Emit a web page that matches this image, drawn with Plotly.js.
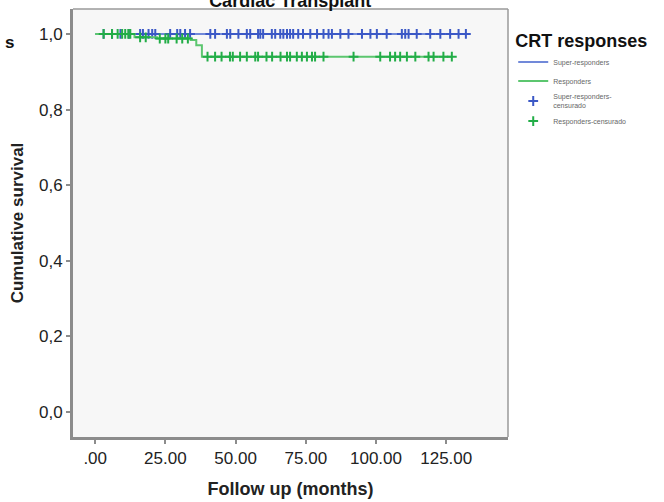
<!DOCTYPE html>
<html>
<head>
<meta charset="utf-8">
<script src="https://cdn.plot.ly/plotly-3.0.1.min.js"></script>
<style>html,body{margin:0;padding:0;background:#fff;}#chart{width:664px;height:502px;}</style>
</head>
<body>
<div id="chart"></div>
<script>
// Kaplan-Meier step data (time in months, cumulative survival)
const superTimes = [0, 132];
const superSurv  = [1.0, 1.0];
const respTimes  = [0, 14, 22, 34, 36, 38, 127];
const respSurv   = [1.0, 0.991, 0.988, 0.984, 0.97, 0.94, 0.94];

// Censoring times
const superCensor = [3, 6, 9, 12, 16, 17, 19, 20.3, 21.4, 26.7, 29.2, 30.3, 32, 33.8, 41, 42.7, 46.9, 48.1, 51, 54, 55.2, 58, 58.8, 59.8, 62.9, 64.1, 65.9, 67, 68.3, 69.4, 70.5, 72.3, 74, 76.6, 79, 81.3, 83.1, 84.3, 87.3, 90.2, 95, 98, 100.3, 103.8, 109.2, 110.4, 111.6, 114.5, 119.3, 122.9, 126.4, 129.4, 132];
const respCensor  = [3, 6, 8, 9.6, 10.7, 11.8, 12.5, 16, 18, 23, 25, 26, 29, 31, 33, 40, 42.7, 45, 48, 49, 51.6, 54, 57, 58, 61, 63, 66, 68.3, 69.4, 71.8, 73.6, 75.4, 77.2, 78.3, 81.3, 92, 101.5, 105, 106.8, 108.6, 111, 114, 118.7, 120.5, 124, 127];

const xTickVals = [0, 25, 50, 75, 100, 125];
const xTickText = ['.00', '25.00', '50.00', '75.00', '100.00', '125.00'];
const yTickVals = [0, 0.2, 0.4, 0.6, 0.8, 1.0];
const yTickText = ['0,0', '0,2', '0,4', '0,6', '0,8', '1,0'];

const seriesNames = ['Super-responders', 'Responders', 'Super-responders-<br>censurado', 'Responders-censurado'];

function survAt(times, surv, t) {
  let s = surv[0];
  for (let i = 0; i < times.length; i++) { if (times[i] <= t) s = surv[i]; }
  return s;
}

const blueLine = '#7189d9', blueMark = '#3b58c6';
const greenLine = '#5cc66f', greenMark = '#22ad47';

const traces = [
  {x: superTimes, y: superSurv, mode: 'lines', line: {shape: 'hv', color: blueLine, width: 2}, name: seriesNames[0], legendrank: 1},
  {x: superCensor, y: superCensor.map(t => survAt(superTimes, superSurv, t)), mode: 'markers',
   marker: {symbol: 'cross-thin-open', size: 7, color: blueMark, line: {color: blueMark, width: 2}}, name: seriesNames[2], legendrank: 3},
  {x: respTimes, y: respSurv, mode: 'lines', line: {shape: 'hv', color: greenLine, width: 2}, name: seriesNames[1], legendrank: 2},
  {x: respCensor, y: respCensor.map(t => survAt(respTimes, respSurv, t)), mode: 'markers',
   marker: {symbol: 'cross-thin-open', size: 7, color: greenMark, line: {color: greenMark, width: 2}}, name: seriesNames[3], legendrank: 4}
];

const font = 'Liberation Sans, Arial, Helvetica, sans-serif';
const layout = {
  width: 664, height: 502,
  margin: {l: 73, r: 156, t: 9, b: 65},
  paper_bgcolor: '#ffffff',
  plot_bgcolor: '#f7f7f7',
  font: {family: font, size: 17, color: '#222'},
  title: {text: '<b>Cardiac Transplant</b>', x: 0.437, xanchor: 'center', y: 0.998, yref: 'container', yanchor: 'middle', font: {family: font, size: 18, color: '#111'}},
  xaxis: {
    range: [-7.9, 147], tickvals: xTickVals, ticktext: xTickText,
    showgrid: false, zeroline: false, showline: true, linecolor: '#8c8c8c', linewidth: 3,
    ticks: 'outside', ticklen: 4, tickwidth: 2, tickcolor: '#8c8c8c',
    tickfont: {size: 17, color: '#222'},
    title: {text: '<b>Follow up (months)</b>', font: {size: 18, color: '#222'}, standoff: 15}
  },
  yaxis: {
    range: [-0.066, 1.066], tickvals: yTickVals, ticktext: yTickText,
    showgrid: false, zeroline: false, showline: true, linecolor: '#8c8c8c', linewidth: 3,
    ticks: 'outside', ticklen: 4, tickwidth: 2, tickcolor: '#8c8c8c',
    tickfont: {size: 17, color: '#222'},
    title: {text: '<b>Cumulative survival</b>', font: {size: 17, color: '#222'}, standoff: 12}
  },
  shapes: [
    {type: 'line', xref: 'paper', yref: 'paper', x0: 0, x1: 1, y0: 1, y1: 1, line: {color: '#9a9a9a', width: 1.5}},
    {type: 'line', xref: 'paper', yref: 'paper', x0: 1, x1: 1, y0: 0, y1: 1, line: {color: '#9a9a9a', width: 1.5}}
  ],
  showlegend: true,
  legend: {
    x: 1.012, xanchor: 'left', y: 0.965, yanchor: 'top',
    bgcolor: 'rgba(0,0,0,0)',
    font: {size: 7, color: '#666'},
    title: {text: '<b>CRT responses</b>', font: {size: 18, color: '#111'}},
    tracegroupgap: 0, itemwidth: 30
  },
  annotations: [
    {text: '<b>s</b>', xref: 'paper', yref: 'paper', x: -0.145, y: 0.922, xanchor: 'center', yanchor: 'middle', showarrow: false, font: {size: 17, color: '#111'}}
  ]
};

Plotly.newPlot('chart', traces, layout, {displayModeBar: false, staticPlot: true});
</script>
</body>
</html>
